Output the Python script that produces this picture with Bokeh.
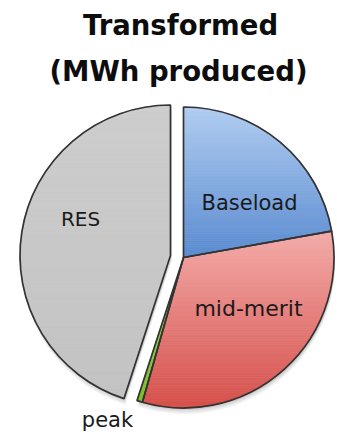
import numpy as np
from bokeh.plotting import figure
from bokeh.models import Range1d, Label, ColumnDataSource
from bokeh.core.properties import value
from bokeh.embed import file_html
from bokeh.resources import INLINE

# Share of MWh produced by each plant type (percent), clockwise from 12 o'clock
categories = ["Baseload", "mid-merit", "peak", "RES"]
shares = [22.2, 32.2, 0.6, 45.0]

title_lines = ["Transformed", "(MWh produced)"]

# Slice fills: light tone at the top of a slice fading to the darker tone below
color_top = ["#b0cdf1", "#f4acaa", "#a9dc5e", "#cdcdcd"]
color_bottom = ["#5a8bd1", "#d6504b", "#7cbd2c", "#c3c3c3"]

W, H = 337, 436
CX, CY = 183.0, H - 257.0
R = 150.5
OFFSETS = {"RES": (-13.0, 2.0)}  # pulled-out slice
OUTLINE = "#333333"
TEXT_SHIFT = 9  # raise text so the alphabetic baseline sits where intended

# label baselines relative to the pie centre (x right, y up), plus font size
LABEL_POS = {
    "Baseload": (66, 46, "21px"),
    "mid-merit": (65, -60, "22px"),
    "peak": (-76, -171, "21px"),
    "RES": (-103, 30, "20px"),
}

total = float(sum(shares))
cum = np.concatenate([[0.0], np.cumsum(shares)]) / total * 2 * np.pi
theta_start = np.pi / 2 - cum[:-1]   # math angle where each slice begins
theta_end = np.pi / 2 - cum[1:]      # ... and ends (going clockwise)

cx = np.array([CX + OFFSETS.get(c, (0, 0))[0] for c in categories])
cy = np.array([CY + OFFSETS.get(c, (0, 0))[1] for c in categories])


def hex_rgb(h):
    h = h.lstrip("#")
    return np.array([int(h[i:i + 2], 16) for i in (0, 2, 4)], float)


def mix(a, b, t):
    c = hex_rgb(a) * (1 - t) + hex_rgb(b) * t
    return "#%02x%02x%02x" % tuple(int(round(v)) for v in c)


def clip_half(poly, y0, keep_above):
    out = []
    n = len(poly)
    for i in range(n):
        p, q = poly[i], poly[(i + 1) % n]
        pin = p[1] >= y0 if keep_above else p[1] <= y0
        qin = q[1] >= y0 if keep_above else q[1] <= y0
        if pin:
            out.append(p)
        if pin != qin:
            t = (y0 - p[1]) / (q[1] - p[1])
            out.append((p[0] + t * (q[0] - p[0]), y0))
    return out


p = figure(width=W, height=H, x_range=Range1d(0, W), y_range=Range1d(0, H),
           output_backend="svg", toolbar_location=None, min_border=0,
           outline_line_color=None, background_fill_color="white")
p.axis.visible = False
p.grid.visible = False

src = ColumnDataSource(dict(x=cx, y=cy, start=theta_end, end=theta_start,
                            cat=categories))

# soft drop shadow under the pie
for dy, a in [(-6, 0.10), (-4, 0.14), (-2, 0.18)]:
    p.wedge(x=cx + 1, y=cy + dy, radius=R, start_angle=theta_end,
            end_angle=theta_start, fill_color="#7a7a7a", fill_alpha=a,
            line_color=None)

# vertical gradient fill, built as horizontal strips of each slice
xs, ys, fills = [], [], []
for i, c in enumerate(categories):
    arc = np.linspace(theta_start[i], theta_end[i], 90)
    poly = [(cx[i], cy[i])] + [(cx[i] + R * np.cos(t), cy[i] + R * np.sin(t))
                               for t in arc]
    ytop = max(v[1] for v in poly)
    ybot = min(v[1] for v in poly)
    nb = 70
    edges = np.linspace(ytop, ybot, nb + 1)
    for k in range(nb):
        band = clip_half(clip_half(poly, edges[k + 1], True), edges[k], False)
        if len(band) < 3:
            continue
        xs.append([v[0] for v in band])
        ys.append([v[1] for v in band])
        fills.append(mix(color_top[i], color_bottom[i], (k + 0.5) / nb))
p.patches(xs=xs, ys=ys, fill_color=fills, line_color=fills, line_width=0.6)

# slice outlines
p.wedge(x="x", y="y", radius=R, start_angle="start", end_angle="end",
        source=src, fill_alpha=0, line_color=OUTLINE, line_width=1.7)

# slice labels
lab = ColumnDataSource(dict(
    x=[CX + LABEL_POS[c][0] for c in categories],
    y=[CY + LABEL_POS[c][1] + TEXT_SHIFT for c in categories],
    text=categories,
    size=[LABEL_POS[c][2] for c in categories],
))
p.text(x="x", y="y", text="text", source=lab, text_font=value("DejaVu Sans"),
       text_font_size="size", text_align="center",
       text_baseline="alphabetic", text_color="#1a1a1a")

# two-line title
for txt, xx, base in [(title_lines[0], 180, 33), (title_lines[1], 178, 79)]:
    p.add_layout(Label(x=xx, y=H - base + TEXT_SHIFT, text=txt,
                       text_align="center", text_baseline="alphabetic",
                       text_font="DejaVu Sans", text_font_style="bold",
                       text_font_size="27.5px", text_color="#0d0d0d"))

open("out.html", "w").write(file_html(p, INLINE))
